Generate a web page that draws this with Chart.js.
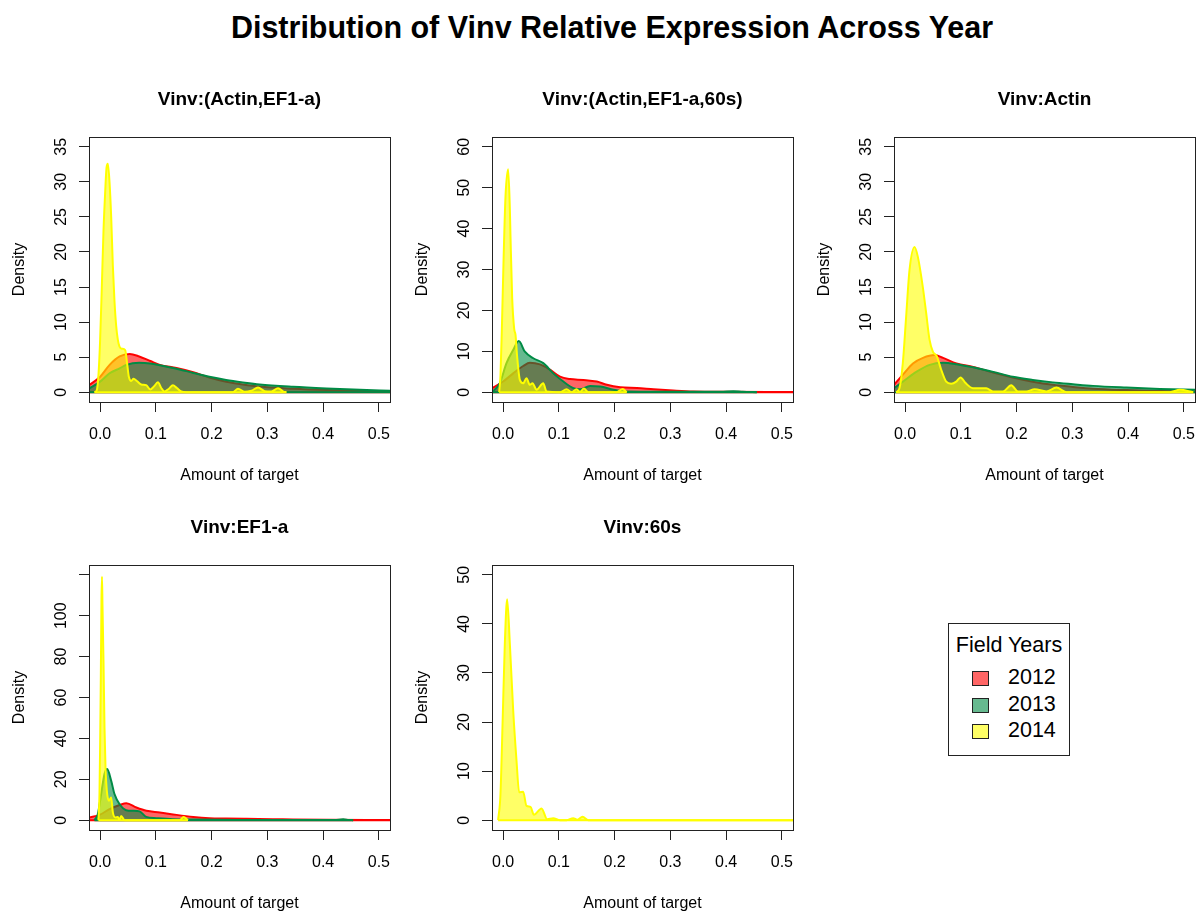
<!DOCTYPE html>
<html>
<head>
<meta charset="utf-8">
<title>Distribution of Vinv Relative Expression Across Year</title>
<script src="https://cdn.jsdelivr.net/npm/chart.js@4.4.1/dist/chart.umd.min.js"></script>
<style>
  body { margin: 0; background: #fff; width: 1198px; height: 915px; position: relative; overflow: hidden;
         font-family: "Liberation Sans", Arial, sans-serif; color: #000; }
  #mainTitle { position: absolute; left: 212px; width: 800px; top: 9px; line-height: 36px;
               text-align: center; font-weight: bold; font-size: 30.5px; }
  canvas { position: absolute; }
  #legend { position: absolute; left: 948px; top: 623px; width: 120px; height: 131px; border: 1px solid #222; }
  #legend .ltitle { position: absolute; left: 0; width: 120px; top: 8px; line-height: 26px; text-align: center; font-size: 21.5px; }
  #legend .sw { position: absolute; left: 23px; width: 15px; height: 13px; border: 1px solid #222; }
  #legend .lab { position: absolute; left: 59px; line-height: 26px; font-size: 21.5px; }
</style>
</head>
<body>
<div id="mainTitle">Distribution of Vinv Relative Expression Across Year</div>
<canvas id="p1" width="393" height="426" style="left:0px;top:61px"></canvas>
<canvas id="p2" width="393" height="426" style="left:403px;top:61px"></canvas>
<canvas id="p3" width="393" height="426" style="left:805px;top:61px"></canvas>
<canvas id="p4" width="393" height="426" style="left:0px;top:489px"></canvas>
<canvas id="p5" width="393" height="426" style="left:403px;top:489px"></canvas>
<div id="legend"></div>

<script>
/* ------------------ DATA ------------------ */
const years = ["2012", "2013", "2014"];
const lineColors = ["#FF0000", "#008B45", "#FFFF00"];
const fillColors = ["rgba(255,0,0,0.6)", "rgba(0,139,69,0.6)", "rgba(255,255,0,0.6)"];

const xTicks = [0, 0.1, 0.2, 0.3, 0.4, 0.5];
const xTickLabels = ["0.0", "0.1", "0.2", "0.3", "0.4", "0.5"];

// Vinv:(Actin,EF1-a)
const p1_2012_x = [-0.02, 0, 0.017, 0.035, 0.053, 0.07, 0.09, 0.107, 0.137, 0.167, 0.196, 0.226, 0.256, 0.286, 0.346, 0.406, 0.466, 0.52];
const p1_2012_y = [1.0, 2.2, 3.9, 5.1, 5.45, 5.1, 4.45, 3.9, 3.45, 2.85, 2.1, 1.5, 1.1, 0.8, 0.5, 0.3, 0.17, 0.1];
const p1_2013_x = [-0.02, 0, 0.017, 0.035, 0.047, 0.07, 0.09, 0.107, 0.137, 0.167, 0.196, 0.226, 0.256, 0.286, 0.346, 0.406, 0.466, 0.52];
const p1_2013_y = [0.5, 1.5, 2.7, 3.4, 3.9, 4.2, 4.1, 3.85, 3.35, 2.75, 2.2, 1.75, 1.4, 1.1, 0.76, 0.52, 0.33, 0.2];
const p1_2014_x = [-0.0102, -0.006, -0.003, 0, 0.003, 0.006, 0.009, 0.0114, 0.0138, 0.0168, 0.0198, 0.0228, 0.0257, 0.0287, 0.0317, 0.0347, 0.0389, 0.0449, 0.0485, 0.0515, 0.0557, 0.0599, 0.0659, 0.0737, 0.0826, 0.0898, 0.0964, 0.1036, 0.1096, 0.1156, 0.1234, 0.1305, 0.1377, 0.1455, 0.1545, 0.2383, 0.2473, 0.2593, 0.2713, 0.2832, 0.2952, 0.3072, 0.3192, 0.3293, 0.3341];
const p1_2014_y = [0, 0.3, 2.5, 7.5, 15, 23, 28.5, 32, 32.6, 30, 25, 18, 13, 9.5, 7.5, 6.5, 6.2, 6.0, 4, 2.2, 1.6, 1.9, 1.6, 1.1, 1.0, 0.4, 0.8, 1.4, 0.6, 0.1, 0.5, 1.0, 0.6, 0.1, 0, 0, 0.5, 0.05, 0.2, 0.66, 0.15, 0.1, 0.57, 0.05, 0];

// Vinv:(Actin,EF1-a,60s)
const p2_2012_x = [-0.02, 0, 0.018, 0.036, 0.048, 0.066, 0.084, 0.102, 0.12, 0.144, 0.168, 0.186, 0.21, 0.24, 0.27, 0.305, 0.341, 0.401, 0.52];
const p2_2012_y = [1.0, 2.6, 4.6, 6.4, 7.2, 6.8, 5.5, 3.8, 3.2, 3.0, 2.6, 1.8, 1.2, 1.0, 0.7, 0.4, 0.16, 0.08, 0.06];
const p2_2013_x = [-0.02, -0.006, 0.006, 0.018, 0.028, 0.039, 0.054, 0.072, 0.09, 0.108, 0.126, 0.138, 0.156, 0.174, 0.198, 0.222, 0.28, 0.39, 0.413, 0.43, 0.455];
const p2_2013_y = [0, 2.2, 7.1, 10.3, 12.5, 9.9, 8.3, 7.1, 4.6, 2.6, 1.0, 0.7, 1.5, 1.4, 0.6, 0.16, 0.1, 0.1, 0.25, 0.1, 0];
const p2_2014_x = [-0.0072, -0.0048, -0.0024, 0.0006, 0.0042, 0.009, 0.012, 0.0132, 0.0162, 0.0198, 0.0222, 0.0251, 0.03, 0.036, 0.0419, 0.0479, 0.0527, 0.0599, 0.0719, 0.0778, 0.1018, 0.1138, 0.1228, 0.1317, 0.1377, 0.1449, 0.1527, 0.2036, 0.2144, 0.2216];
const p2_2014_y = [0, 4, 15, 31.5, 47.8, 54.5, 45, 38, 23, 15.5, 14, 8.7, 3, 2.2, 3.4, 1.8, 2.2, 0.6, 2.2, 0.2, 0, 0.7, 0, 0.7, 0.05, 0.9, 0, 0, 0.8, 0];

// Vinv:Actin
const p3_2012_x = [-0.02, -0.004, 0.014, 0.032, 0.053, 0.068, 0.092, 0.122, 0.158, 0.193, 0.229, 0.265, 0.301, 0.337, 0.397, 0.457, 0.52];
const p3_2012_y = [1.05, 2.5, 4.1, 4.9, 5.3, 4.9, 4.1, 3.6, 2.8, 2.1, 1.5, 1.05, 0.75, 0.5, 0.3, 0.17, 0.1];
const p3_2013_x = [-0.02, -0.004, 0.02, 0.044, 0.068, 0.092, 0.122, 0.158, 0.193, 0.229, 0.265, 0.301, 0.337, 0.397, 0.457, 0.52];
const p3_2013_y = [0.57, 1.5, 2.9, 3.9, 4.2, 4.0, 3.55, 2.9, 2.2, 1.75, 1.4, 1.14, 0.9, 0.66, 0.47, 0.33];
const p3_2014_x = [-0.0162, -0.0102, -0.0042, 0.0018, 0.0078, 0.0168, 0.0228, 0.0317, 0.0377, 0.0437, 0.0497, 0.0569, 0.0647, 0.0737, 0.0826, 0.0916, 0.0994, 0.1084, 0.1216, 0.1455, 0.1575, 0.1754, 0.1904, 0.2024, 0.2174, 0.2323, 0.2533, 0.2713, 0.2892, 0.4749, 0.4928, 0.5168];
const p3_2014_y = [0, 0.57, 4.1, 10.8, 17.4, 20.7, 19.3, 15, 11.3, 7.5, 5.8, 5.1, 3.2, 1.5, 1.2, 1.5, 2.1, 1.3, 0.57, 0.57, 0.1, 0.1, 1.0, 0.1, 0.1, 0.43, 0.1, 0.66, 0, 0, 0.33, 0];

// Vinv:EF1-a
const p4_2012_x = [-0.02, -0.001, 0.017, 0.035, 0.047, 0.065, 0.083, 0.107, 0.137, 0.167, 0.196, 0.226, 0.262, 0.31, 0.346, 0.406, 0.52];
const p4_2012_y = [1.3, 2.6, 5.4, 7.4, 8.3, 6.2, 4.6, 3.8, 2.6, 1.6, 1.0, 0.8, 0.65, 0.5, 0.33, 0.16, 0.05];
const p4_2013_x = [-0.0102, -0.0042, 0.0018, 0.0078, 0.0126, 0.0198, 0.0257, 0.0347, 0.0467, 0.0587, 0.0707, 0.0826, 0.1006, 0.1305, 0.1665, 0.2144, 0.2862, 0.42, 0.436, 0.446, 0.4539];
const p4_2013_y = [0, 2.9, 12.8, 22.6, 25, 19.3, 12.8, 7.9, 4.9, 4.6, 4.3, 1.6, 1.0, 0.5, 0.3, 0.16, 0.15, 0.15, 0.4, 0.15, 0];
const p4_2014_x = [-0.003, -0.0012, 0, 0.0012, 0.0024, 0.0033, 0.0042, 0.006, 0.0078, 0.0096, 0.012, 0.0156, 0.0198, 0.0228, 0.0275, 0.0317, 0.0347, 0.0377, 0.0437, 0.1425, 0.1497, 0.1575];
const p4_2014_y = [0, 12.8, 37, 70, 108, 119, 105, 78, 45.5, 25.9, 14.4, 9.5, 11.1, 3.8, 1.3, 1.5, 0, 2.1, 0, 0, 1.6, 0];

// Vinv:60s
const p5_2014_x = [-0.009, -0.0048, -0.0012, 0.003, 0.0072, 0.012, 0.018, 0.024, 0.0287, 0.0359, 0.0419, 0.0491, 0.0551, 0.0689, 0.079, 0.0898, 0.1018, 0.1138, 0.1257, 0.1329, 0.1425, 0.1527, 0.52];
const p5_2014_y = [0, 5.3, 19, 36, 45, 36, 22.4, 12.1, 5.7, 5.8, 2.9, 2.7, 1.1, 2.4, 0.2, 0.4, 0, 0, 0.4, 0.1, 0.7, 0, 0];

// y axis limits and ticks
const p1_yTicks = [0, 5, 10, 15, 20, 25, 30, 35];
const p2_yTicks = [0, 10, 20, 30, 40, 50, 60];
const p3_yTicks = [0, 5, 10, 15, 20, 25, 30, 35];
const p4_yTicks = [0, 20, 40, 60, 80, 100, 120];
const p4_yTickLabels = ["0", "20", "40", "60", "80", "100", ""];
const p5_yTicks = [0, 10, 20, 30, 40, 50];

/* ------------------ SETUP ------------------ */
Chart.defaults.font.family = '"Liberation Sans", Arial, sans-serif';
Chart.defaults.font.size = 16;
Chart.defaults.color = "#000";

// legend
const legend = document.getElementById("legend");
legend.innerHTML = '<div class="ltitle">Field Years</div>';
years.forEach((yr, i) => {
    const top = 31 + i * 26.7;
    legend.innerHTML += `
        <span class="sw" style="top:${top + 16}px;background:${fillColors[i]}"></span>
        <span class="lab" style="top:${top + 9}px">${yr}</span>`;
});

// box round the plot region, and the panel title centred over it
const boxPlugin = {
    id: "box",
    afterDraw(chart, args, opts) {
        const a = chart.chartArea;
        const ctx = chart.ctx;
        ctx.save();
        ctx.strokeStyle = "#222";
        ctx.lineWidth = 1;
        ctx.strokeRect(Math.round(a.left) + 0.5, Math.round(a.top) + 0.5,
                       Math.round(a.right - a.left), Math.round(a.bottom - a.top));
        ctx.fillStyle = "#000";
        ctx.font = 'bold 19px "Liberation Sans", Arial, sans-serif';
        ctx.textAlign = "center";
        ctx.textBaseline = "middle";
        ctx.fillText(opts.text, (a.left + a.right) / 2, a.top - 37);
        ctx.restore();
    }
};

function makePanel(id, title, series, yMax, yTicks, yLabels) {
    const datasets = [];
    series.forEach(s => {
        const pts = s.x.map((x, j) => ({ x: x, y: s.y[j] }));
        datasets.push({
            label: years[s.k],
            data: pts,
            borderColor: lineColors[s.k],
            backgroundColor: fillColors[s.k],
            borderWidth: 2,
            pointRadius: 0,
            fill: "origin",
            cubicInterpolationMode: "monotone",
            order: 10 - 2 * s.k
        });
        // bottom edge of the density polygon
        datasets.push({
            label: years[s.k] + " base",
            data: [{ x: s.x[0], y: 0 }, { x: s.x[s.x.length - 1], y: 0 }],
            borderColor: lineColors[s.k],
            borderWidth: 2,
            pointRadius: 0,
            fill: false,
            order: 9 - 2 * s.k
        });
    });

    const digits = Math.max(...yLabels.map(l => l.length));
    const yPad = 89 - 10 - 62 - digits * 0.556 * 16 / 2;

    new Chart(document.getElementById(id), {
        type: "line",
        data: { datasets: datasets },
        options: {
            responsive: false,
            animation: false,
            layout: { padding: { top: 76, left: 0, right: 3, bottom: 0 } },
            plugins: {
                legend: { display: false },
                tooltip: { enabled: false },
                title: { display: false },
                box: { text: title }
            },
            scales: {
                x: {
                    type: "linear",
                    min: -0.02,
                    max: 0.52,
                    afterBuildTicks: sc => { sc.ticks = xTicks.map(v => ({ value: v })); },
                    afterFit: sc => { sc.height = 85; sc.paddingLeft = 0; sc.paddingRight = 0; },
                    grid: { display: true, drawOnChartArea: false, drawTicks: true, tickLength: 10, color: "#222" },
                    border: { display: false },
                    ticks: { autoSkip: false, maxRotation: 0, padding: 12.5, color: "#000",
                             callback: (v, i) => xTickLabels[i] },
                    title: { display: true, text: "Amount of target", color: "#000", padding: { top: 0, bottom: 2 } }
                },
                y: {
                    type: "linear",
                    min: -0.04 * yMax,
                    max: 1.04 * yMax,
                    afterBuildTicks: sc => { sc.ticks = yTicks.map(v => ({ value: v })); },
                    afterFit: sc => { sc.width = 89; sc.paddingTop = 0; sc.paddingBottom = 0; },
                    grid: { display: true, drawOnChartArea: false, drawTicks: true, tickLength: 10, color: "#222" },
                    border: { display: false },
                    ticks: { autoSkip: false, minRotation: 90, maxRotation: 90, crossAlign: "center",
                             padding: yPad, color: "#000", callback: (v, i) => yLabels[i] },
                    title: { display: true, text: "Density", color: "#000", padding: { top: 10, bottom: 0 } }
                }
            }
        },
        plugins: [boxPlugin]
    });
}

const asText = arr => arr.map(String);

makePanel("p1", "Vinv:(Actin,EF1-a)", [
    { k: 0, x: p1_2012_x, y: p1_2012_y },
    { k: 1, x: p1_2013_x, y: p1_2013_y },
    { k: 2, x: p1_2014_x, y: p1_2014_y }
], 35, p1_yTicks, asText(p1_yTicks));

makePanel("p2", "Vinv:(Actin,EF1-a,60s)", [
    { k: 0, x: p2_2012_x, y: p2_2012_y },
    { k: 1, x: p2_2013_x, y: p2_2013_y },
    { k: 2, x: p2_2014_x, y: p2_2014_y }
], 60, p2_yTicks, asText(p2_yTicks));

makePanel("p3", "Vinv:Actin", [
    { k: 0, x: p3_2012_x, y: p3_2012_y },
    { k: 1, x: p3_2013_x, y: p3_2013_y },
    { k: 2, x: p3_2014_x, y: p3_2014_y }
], 35, p3_yTicks, asText(p3_yTicks));

makePanel("p4", "Vinv:EF1-a", [
    { k: 0, x: p4_2012_x, y: p4_2012_y },
    { k: 1, x: p4_2013_x, y: p4_2013_y },
    { k: 2, x: p4_2014_x, y: p4_2014_y }
], 120, p4_yTicks, p4_yTickLabels);

makePanel("p5", "Vinv:60s", [
    { k: 2, x: p5_2014_x, y: p5_2014_y }
], 50, p5_yTicks, asText(p5_yTicks));
</script>
</body>
</html>
